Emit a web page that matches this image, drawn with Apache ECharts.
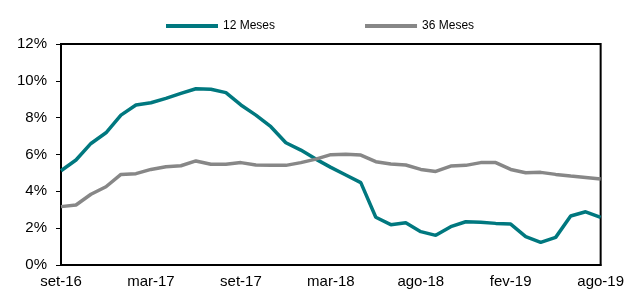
<!DOCTYPE html>
<html>
<head>
<meta charset="utf-8">
<script src="https://cdn.jsdelivr.net/npm/echarts@6/dist/echarts.min.js"></script>
<style>
    html, body { margin: 0; padding: 0; background: #fff; }
    #chart { width: 627px; height: 290px; }
</style>
</head>
<body>
<div id="chart"></div>
<script>
// rótulos do eixo x (um a cada 6 pontos)
var xLabels = ['set-16', 'mar-17', 'set-17', 'mar-18', 'ago-18', 'fev-19', 'ago-19'];
var seriesNames = ['12 Meses', '36 Meses'];

// valores em %
var meses12 = [5.12, 5.70, 6.60, 7.18, 8.14, 8.69, 8.81, 9.05, 9.32, 9.57, 9.54, 9.36,
    8.69, 8.14, 7.51, 6.64, 6.24, 5.75, 5.30, 4.89, 4.47, 2.59, 2.19, 2.30,
    1.81, 1.61, 2.08, 2.35, 2.32, 2.26, 2.22, 1.54, 1.23, 1.50, 2.66, 2.89, 2.59];
var meses36 = [3.17, 3.26, 3.84, 4.25, 4.92, 4.96, 5.19, 5.34, 5.39, 5.65, 5.47, 5.47,
    5.56, 5.43, 5.41, 5.41, 5.56, 5.75, 5.99, 6.01, 5.97, 5.61, 5.48, 5.43,
    5.19, 5.08, 5.37, 5.41, 5.56, 5.56, 5.19, 5.01, 5.03, 4.92, 4.83, 4.75, 4.67];

var categories = [];
for (var i = 0; i < meses12.length; i++) {
    categories.push(i);
}

var chart = echarts.init(document.getElementById('chart'));
var option = {
    animation: false,
    textStyle: { fontFamily: 'Liberation Sans, Arial, sans-serif' },
    legend: {
        top: 15,
        left: 161,
        icon: 'rect',
        itemWidth: 52,
        itemHeight: 4,
        itemGap: 90,
        textStyle: { fontSize: 12, color: '#000' },
        data: seriesNames
    },
    grid: {
        left: 61,
        right: 19,
        top: 44,
        bottom: 25,
        show: true,
        borderColor: '#000',
        borderWidth: 2
    },
    xAxis: {
        type: 'category',
        data: categories,
        boundaryGap: false,
        axisLine: { lineStyle: { color: '#000', width: 2 } },
        axisTick: { show: false },
        axisLabel: {
            interval: 5,
            margin: 9,
            fontSize: 15,
            color: '#000',
            formatter: function (v, idx) {
                return xLabels[idx / 6];
            }
        },
        splitLine: { show: false }
    },
    yAxis: {
        type: 'value',
        min: 0,
        max: 12,
        interval: 2,
        axisLine: { show: true, lineStyle: { color: '#000', width: 2 } },
        axisTick: { show: true, length: 5, lineStyle: { color: '#000', width: 1 } },
        axisLabel: {
            margin: 14,
            fontSize: 15,
            color: '#000',
            formatter: '{value}%'
        },
        splitLine: { show: false }
    },
    series: [
        {
            name: seriesNames[0],
            type: 'line',
            data: meses12,
            symbol: 'none',
            color: '#00787F',
            lineStyle: { color: '#00787F', width: 3.5 }
        },
        {
            name: seriesNames[1],
            type: 'line',
            data: meses36,
            symbol: 'none',
            color: '#878787',
            lineStyle: { color: '#878787', width: 3.5 }
        }
    ]
};
chart.setOption(option);
</script>
</body>
</html>
